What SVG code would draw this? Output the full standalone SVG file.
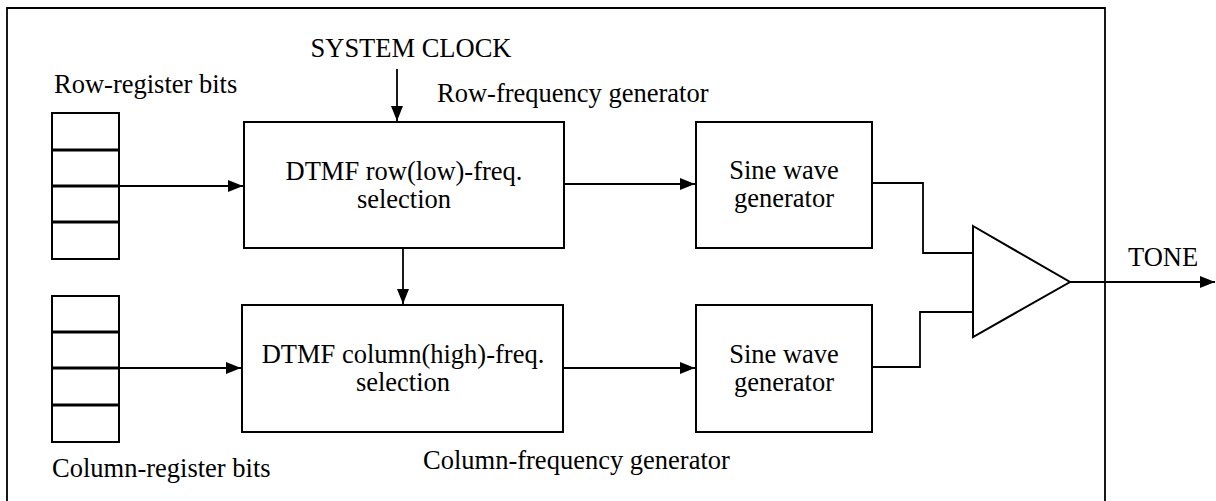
<svg xmlns="http://www.w3.org/2000/svg" width="1216" height="501" viewBox="0 0 1216 501">
<style>
text{font-family:"Liberation Serif","DejaVu Serif","Times New Roman",serif;font-size:26.5px;fill:#000}
.c{text-anchor:middle}
.box{fill:#fff;stroke:#000;stroke-width:2}
.reg{fill:#fff;stroke:#000;stroke-width:2}
.div{stroke:#000;stroke-width:3}
.ln{fill:none;stroke:#000;stroke-width:1.8}
</style>
<defs>
<marker id="ah" markerUnits="userSpaceOnUse" markerWidth="16" markerHeight="12" refX="15" refY="6" orient="auto">
<path d="M0,0 L15,6 L0,12 Z" fill="#000"/>
</marker>
</defs>
<rect width="1216" height="501" fill="#fff"/>
<g id="frame"><path d="M7,510 L7,8 L1105,8 L1105,510" class="ln" stroke-width="2"/></g>

<g id="connectors">
<line x1="397" y1="69" x2="397" y2="121" class="ln" marker-end="url(#ah)"/>
<line x1="119" y1="186" x2="243" y2="186" class="ln" marker-end="url(#ah)"/>
<line x1="119" y1="368" x2="241" y2="368" class="ln" marker-end="url(#ah)"/>
<line x1="403" y1="248" x2="403" y2="304" class="ln" marker-end="url(#ah)"/>
<line x1="564" y1="184" x2="695" y2="184" class="ln" marker-end="url(#ah)"/>
<line x1="563" y1="368" x2="695" y2="368" class="ln" marker-end="url(#ah)"/>
<polyline points="872,183 923,183 923,253 972,253" class="ln"/>
<polyline points="872,367 920,367 920,312 972,312" class="ln"/>
<line x1="1070" y1="282" x2="1215" y2="282" class="ln" marker-end="url(#ah)"/>
</g>

<g id="row-register">
<rect x="52" y="113" width="67" height="146" class="reg"/>
<line x1="52" y1="150" x2="119" y2="150" class="div"/>
<line x1="52" y1="186" x2="119" y2="186" class="div"/>
<line x1="52" y1="222" x2="119" y2="222" class="div"/>
<text x="54" y="93">Row-register bits</text>
</g>

<g id="col-register">
<rect x="52" y="296" width="67" height="146" class="reg"/>
<line x1="52" y1="332" x2="119" y2="332" class="div"/>
<line x1="52" y1="368" x2="119" y2="368" class="div"/>
<line x1="52" y1="405" x2="119" y2="405" class="div"/>
<text x="52" y="477">Column-register bits</text>
</g>

<g id="clock"><text x="411" y="57" class="c">SYSTEM CLOCK</text></g>

<g id="row-select">
<rect x="244" y="122" width="320" height="126" class="box"/>
<text x="404" y="180" class="c">DTMF row(low)-freq.</text>
<text x="404" y="208" class="c">selection</text>
</g>
<text id="row-gen-label" x="437" y="102">Row-frequency generator</text>

<g id="col-select">
<rect x="242" y="305" width="321" height="127" class="box"/>
<text x="403" y="363" class="c">DTMF column(high)-freq.</text>
<text x="403" y="391" class="c">selection</text>
</g>
<text id="col-gen-label" x="423" y="469">Column-frequency generator</text>

<g id="sine1">
<rect x="696" y="122" width="176" height="126" class="box"/>
<text x="784" y="179" class="c">Sine wave</text>
<text x="784" y="207" class="c">generator</text>
</g>

<g id="sine2">
<rect x="696" y="305" width="176" height="127" class="box"/>
<text x="784" y="363" class="c">Sine wave</text>
<text x="784" y="391" class="c">generator</text>
</g>

<g id="amp"><polygon points="973,226 1070,282 973,337" class="box"/></g>
<g id="tone"><text x="1128" y="266">TONE</text></g>
</svg>
